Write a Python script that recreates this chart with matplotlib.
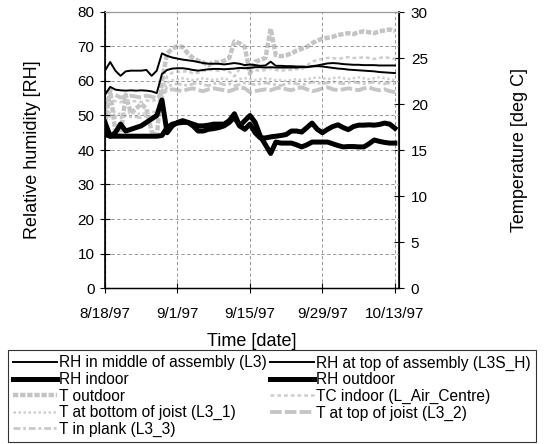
#%%
import pandas as pd
import numpy as np
import matplotlib
matplotlib.use('Agg')
import matplotlib.pyplot as plt

plt.rcParams['font.family'] = ['Liberation Sans', 'DejaVu Sans']

#%%
# daily readings 8/18/97 .. 10/13/97
dates = pd.date_range('1997-08-18', periods=57, freq='D')

rh_middle = [63, 65.5, 63, 61.5, 62.8, 63, 63, 63, 63.2, 61.5, 63,
             68, 67.3, 66.8, 66.5, 66.2, 66, 65.8, 65.5, 65.2, 65,
             65, 65, 64.8, 65, 65.2, 65, 64.6, 64.8, 64.6, 64.4,
             64.5, 65.6, 64.4, 64.4, 64.3, 64.3, 64.2, 64.2, 64.1, 64.3,
             64.5, 64.8, 65.1, 65.2, 65.1, 64.9, 64.8, 64.7, 64.7, 64.6,
             64.6, 64.6, 64.5, 64.5, 64.5, 64.5]
rh_top = [56, 58.3, 57.5, 57.3, 57.2, 57.3, 57.2, 57.3, 57.2, 57, 56.5,
          62, 63.2, 63.6, 63.7, 63.7, 63.5, 63.2, 63, 63.2, 63.4,
          63.5, 63.5, 63.4, 63.5, 63.6, 63.8, 63.7, 63.8, 64, 64,
          63.9, 64, 63.9, 63.9, 63.9, 63.9, 63.9, 64, 64, 64.2,
          64.3, 64.2, 64, 63.8, 63.6, 63.5, 63.3, 63.2, 63.1, 63,
          62.9, 62.8, 62.6, 62.5, 62.4, 62.3]
rh_indoor = [44.5, 44, 44, 44, 44, 44, 44, 44, 44, 44, 44,
             44.2, 46.5, 47.5, 47.8, 48, 48, 47.5, 47, 47, 47.2,
             47.5, 47.5, 47.5, 48.5, 50.5, 47, 46, 47.5, 45, 43.5,
             43.5, 43.8, 44, 44.2, 44.5, 45.5, 45.5, 45.2, 46.5, 47.8,
             46, 45, 46, 46.8, 47.3, 46.5, 45.9, 46.8, 47.2, 47.2,
             47.3, 47.2, 47.4, 47.8, 47.5, 46.3]
rh_outdoor = [48, 44, 45, 47.5, 45.5, 46, 46.5, 47, 48, 49, 50,
              54.5, 45, 47, 48, 48.5, 48, 47, 45.5, 45.5, 46,
              46.2, 46.5, 47, 48, 49.5, 47, 48.5, 50, 48, 44,
              41.5, 39, 42.3, 42, 42, 42, 41.5, 40.9, 41.5, 42.3,
              42.3, 42.3, 42.3, 41.8, 41.3, 40.9, 41, 41, 40.9, 40.9,
              41.8, 42.9, 42.5, 42.2, 42, 42]

t_outdoor = [18, 21.5, 17, 16.5, 21, 19, 19.5, 20, 19.5, 17, 16.5,
             22.5, 25.5, 26, 26.3, 26.2, 25.5, 25, 24.7, 24.5, 24.2,
             24.6, 24.5, 24.7, 25, 26.8, 26.6, 26.2, 23.3, 24.6, 24.8,
             25, 28.2, 25.3, 25.2, 25.3, 25.5, 25.8, 26, 26.2, 26.6,
             26.9, 27.1, 27.2, 27.3, 27.5, 27.6, 27.7, 27.6, 27.8, 27.9,
             27.8, 27.7, 27.9, 28, 28.1, 27.9]
tc_indoor = [21.5, 20.5, 20.3, 20.2, 20.4, 20.3, 20.3, 20.2, 20.4, 20.3, 20.5,
             21.5, 23, 23.4, 23.5, 23.5, 23.6, 23.3, 23.4, 23.6, 23.7,
             23.7, 23.6, 23.8, 23.5, 23, 23.8, 24, 23.9, 23.7, 23.6,
             23.7, 23.9, 23.7, 23.6, 23.7, 23.7, 23.8, 23.8, 24.2, 24.6,
             24.8, 24.9, 25, 25, 24.9, 25, 25.1, 25, 25, 25.1,
             25, 24.9, 25, 25.1, 25, 24.9]
t_bottom = [19.5, 19, 19.1, 18.9, 19, 19.1, 19, 18.9, 19, 19.1, 19.2,
            21, 22.3, 22.6, 22.7, 22.8, 22.7, 22.6, 22.7, 22.8, 22.7,
            22.6, 22.7, 22.8, 22.6, 22.4, 22.7, 22.8, 22.7, 22.6, 22.7,
            22.8, 22.7, 22.6, 22.6, 22.5, 22.6, 22.7, 22.6, 22.7, 22.8,
            22.9, 22.8, 22.7, 22.8, 22.9, 22.8, 22.7, 22.8, 22.9, 22.8,
            22.7, 22.8, 22.9, 22.8, 22.7, 22.6]
t_top = [20, 20.8, 21, 20.7, 20.8, 20.9, 20.8, 20.7, 20.9, 20.8, 20.6,
         21.2, 21.5, 21.6, 21.5, 21.4, 21.6, 21.7, 21.5, 21.4, 21.6,
         21.7, 21.6, 21.5, 21.4, 21.6, 21.8, 21.7, 21.3, 21.4, 21.5,
         21.6, 21.5, 21.7, 21.8, 21.6, 21.5, 21.7, 21.8, 21.6, 21.4,
         21.5, 21.7, 21.8, 21.6, 21.5, 21.6, 21.7, 21.6, 21.5, 21.7,
         21.8, 21.6, 21.5, 21.6, 21.4, 21.3]
t_plank = [18.5, 18.7, 18.6, 18.5, 18.7, 18.6, 18.6, 18.5, 18.7, 18.6, 18.8,
           20.5, 21.9, 22.1, 22.2, 22.1, 22.0, 22.2, 22.3, 22.1, 22.0,
           22.2, 22.3, 22.1, 22.2, 22.0, 22.1, 22.3, 22.2, 22.1, 22.2,
           22.3, 22.2, 22.1, 22.0, 22.2, 22.3, 22.2, 22.1, 22.2, 22.4,
           22.3, 22.2, 22.3, 22.4, 22.3, 22.2, 22.3, 22.4, 22.3, 22.2,
           22.3, 22.4, 22.3, 22.2, 22.3, 22.2]

tick_dates = pd.to_datetime(['1997-08-18', '1997-09-01', '1997-09-15',
                             '1997-09-29', '1997-10-13'])

#%%
fig = plt.figure(figsize=(5.45, 4.44), dpi=100)
ax = fig.add_axes([105/545, 1-288/444, 294/545, 276/444])
ax2 = ax.twinx()
# RH on top of the temperature curves
ax.set_zorder(ax2.get_zorder() + 1)
ax.patch.set_visible(False)

# temperatures (right axis)
l5, = ax2.plot(dates, t_outdoor, color='#c4c4c4', lw=3.2, ls=(0, (1.2, 0.4)))
l6, = ax2.plot(dates, tc_indoor, color='#cdcdcd', lw=1.8, ls=(0, (1.5, 1.2)))
l7, = ax2.plot(dates, t_bottom, color='#d0d0d0', lw=1.8, ls=(0, (1, 1)))
l8, = ax2.plot(dates, t_top, color='#c6c6c6', lw=2.8, ls=(0, (3, 0.8)))
l9, = ax2.plot(dates, t_plank, color='#cacaca', lw=2.0, ls=(0, (2.5, 1, 1, 1)))

# relative humidity (left axis)
l1, = ax.plot(dates, rh_middle, color='k', lw=1.4)
l2, = ax.plot(dates, rh_top, color='k', lw=1.4)
l3, = ax.plot(dates, rh_indoor, color='k', lw=3.6)
l4, = ax.plot(dates, rh_outdoor, color='k', lw=3.6)

xmin = tick_dates[0]
xmax = tick_dates[-1] + pd.Timedelta(hours=19)
ax.set_xlim(xmin, xmax)
ax.set_ylim(0, 80)
ax2.set_ylim(0, 30)
ax.set_yticks(np.arange(0, 81, 10))
ax2.set_yticks(np.arange(0, 31, 5))
ax.set_xticks(tick_dates)
ax.set_xticklabels([f'{d.month}/{d.day}/{d.year % 100}' for d in tick_dates])

ax.grid(True, color='#888888', ls=(0, (4, 3)), lw=0.6)
ax.tick_params(which='both', direction='inout', length=7, width=0.8, labelsize=11)
ax.tick_params(axis='x', pad=10)
ax.tick_params(axis='y', pad=4)
ax2.tick_params(which='both', direction='inout', length=7, width=0.8, labelsize=11, pad=5)
for a in (ax, ax2):
    a.spines['top'].set_color('#999999')
    a.spines['top'].set_linewidth(0.8)
ax2.spines['right'].set_linewidth(1.2)
ax.spines['left'].set_linewidth(1.2)
ax.spines['bottom'].set_linewidth(1.0)

ax.set_ylabel('Relative humidity [RH]', fontsize=13, labelpad=26)
ax2.set_ylabel('Temperature [deg C]', fontsize=13, labelpad=60)
ax.set_xlabel('Time [date]', fontsize=13, labelpad=9)

# legend filled row by row like the original
handles = [l1, l3, l5, l7, l9, l2, l4, l6, l8]
labels = ['RH in middle of assembly (L3)', 'RH indoor', 'T outdoor',
          'T at bottom of joist (L3_1)', 'T in plank (L3_3)',
          'RH at top of assembly (L3S_H)', 'RH outdoor',
          'TC indoor (L_Air_Centre)', 'T at top of joist (L3_2)']
leg = fig.legend(handles, labels, ncol=2, loc='upper left',
                 bbox_to_anchor=(8/545, 1-350/444), fontsize=11.2,
                 frameon=True, fancybox=False, edgecolor='k',
                 handlelength=2.8, handletextpad=0.15, columnspacing=0.2,
                 labelspacing=0.1, borderpad=0.35, borderaxespad=0)
leg.get_frame().set_linewidth(0.8)

out_file = 'out.png'
plt.savefig(out_file, dpi=100)
print(f'save to file: {out_file}')
